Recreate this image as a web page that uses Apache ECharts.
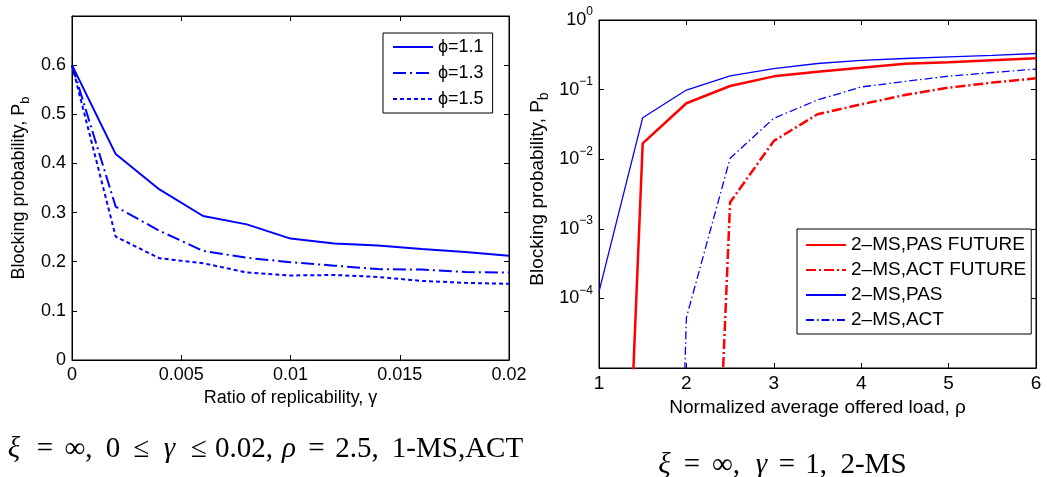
<!DOCTYPE html>
<html><head><meta charset="utf-8">
<script src="https://cdn.jsdelivr.net/npm/echarts@6/dist/echarts.min.js"></script>
<style>html,body{margin:0;padding:0;background:#fff}#c{width:1047px;height:477px}</style>
</head><body><div id="c"></div>
<script>
// ---- Left chart data ----
const gammaX = [0, 0.002, 0.004, 0.006, 0.008, 0.01, 0.012, 0.014, 0.016, 0.018, 0.02];
const phi11 = [0.6, 0.419, 0.347, 0.293, 0.276, 0.247, 0.237, 0.233, 0.226, 0.220, 0.212];
const phi13 = [0.6, 0.312, 0.263, 0.222, 0.208, 0.199, 0.192, 0.185, 0.184, 0.179, 0.178];
const phi15 = [0.6, 0.251, 0.207, 0.197, 0.178, 0.172, 0.173, 0.169, 0.161, 0.157, 0.155];
const leftNames = ['ϕ=1.1', 'ϕ=1.3', 'ϕ=1.5'];
const leftXTicks = [0, 0.005, 0.01, 0.015, 0.02];

// ---- Right chart data ----
const rhoX = [1, 1.5, 2, 2.5, 3, 3.5, 4, 4.5, 5, 5.5, 6];
const pasFuture = [1e-17, 0.0169, 0.0636, 0.1127, 0.155, 0.181, 0.206, 0.236, 0.247, 0.263, 0.281];
const actFuture = [1e-18, 1e-18, 3e-18, 0.0024, 0.0183, 0.0442, 0.0614, 0.0836, 0.1066, 0.126, 0.145];
const pas = [1.25e-4, 0.0395, 0.0986, 0.157, 0.200, 0.237, 0.263, 0.280, 0.295, 0.311, 0.330];
const act = [1e-26, 1e-25, 5.3e-5, 0.0103, 0.0387, 0.071, 0.109, 0.131, 0.156, 0.176, 0.197];
const rightNames = ['2–MS,PAS FUTURE', '2–MS,ACT FUTURE', '2–MS,PAS', '2–MS,ACT'];

// ---- Caption pieces: [text, italic, slot width] ----
const captionLeft = [['ξ',1,28],['=',0,34],['∞,',0,33],['0',0,36],['≤',0,21],['γ',1,35],['≤',0,24],['0.02,',0,66],['ρ',1,24],['=',0,31],['2.5,',0,50],['1-MS,ACT',0,151]];
const captionRight = [['ξ',1,25],['=',0,30],['∞,',0,38],['γ',1,33],['=',0,18],['1,',0,40],['2-MS',0,75]];

const FONT = 'Liberation Sans';
const SERIF = 'Liberation Serif';
const pairs = (xs, ys) => xs.map((x, i) => [x, ys[i]]);

function ax(extra, fs) {
  const base = {
    axisLine: { show: true, onZero: false, lineStyle: { color: '#000', width: 1 } },
    axisTick: { show: true, inside: true, length: 5, lineStyle: { color: '#000', width: 1 } },
    splitLine: { show: false },
    nameTextStyle: { fontFamily: FONT, fontSize: fs || 18, color: '#000' }
  };
  return Object.assign(base, extra);
}
function ylabelRich(fs) {
  return {
    n: { fontFamily: FONT, fontSize: fs, color: '#000', lineHeight: 26 },
    sub: { fontFamily: FONT, fontSize: Math.round(fs * 0.72), color: '#000', lineHeight: 26, verticalAlign: 'bottom' }
  };
}
const ylabelText = '{n|Blocking probability, P}{sub|b}';

function caption(pieces, x, y) {
  const rich = {};
  let text = '';
  pieces.forEach((p, i) => {
    rich['t' + i] = { fontFamily: SERIF, fontSize: 29, fontStyle: p[1] ? 'italic' : 'normal', fill: '#000', width: p[2], align: 'center' };
    text += '{t' + i + '|' + p[0] + '}';
  });
  return { type: 'text', x: x, y: y, style: { text: text, rich: rich, fontFamily: SERIF, fontSize: 29, fill: '#000', align: 'left', verticalAlign: 'middle' } };
}

const option = {
  animation: false,
  backgroundColor: '#fff',
  grid: [
    { left: 72, top: 16, width: 437, height: 344, show: true, borderColor: '#000', borderWidth: 1, backgroundColor: 'transparent' },
    { left: 599, top: 20, width: 437, height: 348, show: true, borderColor: '#000', borderWidth: 1, backgroundColor: 'transparent' }
  ],
  xAxis: [
    ax({ type: 'value', gridIndex: 0, min: leftXTicks[0], max: leftXTicks[leftXTicks.length - 1], interval: leftXTicks[1] - leftXTicks[0],
      axisLabel: { fontFamily: FONT, fontSize: 18, color: '#000', margin: 6, formatter: v => String(+(+v).toFixed(4)) },
      name: 'Ratio of replicability, γ', nameLocation: 'middle', nameGap: 27 }, 18),
    ax({ type: 'value', gridIndex: 0, position: 'top', min: leftXTicks[0], max: leftXTicks[leftXTicks.length - 1], interval: leftXTicks[1] - leftXTicks[0],
      axisLabel: { show: false } }),
    ax({ type: 'value', gridIndex: 1, min: rhoX[0], max: rhoX[rhoX.length - 1], interval: 1,
      axisLabel: { fontFamily: FONT, fontSize: 19, color: '#000', margin: 6 },
      name: 'Normalized average offered load, ρ', nameLocation: 'middle', nameGap: 27 }, 19),
    ax({ type: 'value', gridIndex: 1, position: 'top', min: rhoX[0], max: rhoX[rhoX.length - 1], interval: 1,
      axisLabel: { show: false } })
  ],
  yAxis: [
    ax({ type: 'value', gridIndex: 0, min: 0, max: 0.7, interval: 0.1,
      axisLabel: { fontFamily: FONT, fontSize: 18, color: '#000', margin: 6, showMaxLabel: false, formatter: v => String(+(+v).toFixed(2)) },
      name: ylabelText, nameLocation: 'middle', nameGap: 40, nameRotate: 90,
      nameTextStyle: { rich: ylabelRich(18) } }),
    ax({ type: 'value', gridIndex: 0, position: 'right', min: 0, max: 0.7, interval: 0.1,
      axisLabel: { show: false } }),
    ax({ type: 'log', logBase: 10, gridIndex: 1, min: 1e-5, max: 1,
      axisLabel: { margin: 6, showMinLabel: false,
        formatter: v => { const e = Math.round(Math.log10(v)); return '{b|10}{s|' + (e < 0 ? '−' + (-e) : e) + '}'; },
        rich: {
          b: { fontFamily: FONT, fontSize: 18, color: '#000', lineHeight: 28 },
          s: { fontFamily: FONT, fontSize: 12, color: '#000', lineHeight: 28, verticalAlign: 'top' }
        } },
      name: ylabelText, nameLocation: 'middle', nameGap: 48, nameRotate: 90,
      nameTextStyle: { rich: ylabelRich(19), padding: [0, 0, 0, 10] } }),
    ax({ type: 'log', logBase: 10, gridIndex: 1, position: 'right', min: 1e-5, max: 1,
      axisLabel: { show: false } })
  ],
  legend: [
    { data: leftNames, orient: 'vertical', left: 383, top: 33, padding: [4, 9, 4, 9],
      itemWidth: 40, itemHeight: 14, itemGap: 6, selectedMode: false,
      itemStyle: { opacity: 0 },
      textStyle: { fontFamily: FONT, fontSize: 18, lineHeight: 20, color: '#000' },
      backgroundColor: '#fff', borderColor: '#000', borderWidth: 1, borderRadius: 0 },
    { data: rightNames, orient: 'vertical', left: 797, top: 229, padding: [6, 5, 4, 8],
      itemWidth: 40, itemHeight: 14, itemGap: 5, selectedMode: false,
      itemStyle: { opacity: 0 },
      textStyle: { fontFamily: FONT, fontSize: 19, lineHeight: 20, color: '#000' },
      backgroundColor: '#fff', borderColor: '#000', borderWidth: 1, borderRadius: 0 }
  ],
  series: [
    { name: leftNames[0], type: 'line', xAxisIndex: 0, yAxisIndex: 0, data: pairs(gammaX, phi11), symbol: 'none', color: '#0000ff',
      lineStyle: { width: 2, type: 'solid', color: '#0000ff' } },
    { name: leftNames[1], type: 'line', xAxisIndex: 0, yAxisIndex: 0, data: pairs(gammaX, phi13), symbol: 'none', color: '#0000ff',
      lineStyle: { width: 2, type: [13, 4, 2, 4], color: '#0000ff' } },
    { name: leftNames[2], type: 'line', xAxisIndex: 0, yAxisIndex: 0, data: pairs(gammaX, phi15), symbol: 'none', color: '#0000ff',
      lineStyle: { width: 2, type: [4, 3], color: '#0000ff' } },
    { name: rightNames[0], type: 'line', xAxisIndex: 2, yAxisIndex: 2, data: pairs(rhoX, pasFuture), symbol: 'none', color: '#ff0000', clip: true,
      lineStyle: { width: 2.5, type: 'solid', color: '#ff0000' } },
    { name: rightNames[1], type: 'line', xAxisIndex: 2, yAxisIndex: 2, data: pairs(rhoX, actFuture), symbol: 'none', color: '#ff0000', clip: true,
      lineStyle: { width: 2.5, type: [10, 3, 2, 3], color: '#ff0000' } },
    { name: rightNames[2], type: 'line', xAxisIndex: 2, yAxisIndex: 2, data: pairs(rhoX, pas), symbol: 'none', color: '#0000ff', clip: true,
      lineStyle: { width: 1.3, type: 'solid', color: '#0000ff' } },
    { name: rightNames[3], type: 'line', xAxisIndex: 2, yAxisIndex: 2, data: pairs(rhoX, act), symbol: 'none', color: '#0000ff', clip: true,
      lineStyle: { width: 1.3, type: [8, 3, 1.5, 3], color: '#0000ff' } }
  ],
  graphic: [
    caption(captionLeft, 0, 449.6),
    caption(captionRight, 652, 465)
  ]
};
const chart = echarts.init(document.getElementById('c'), null, { renderer: 'canvas' });
chart.setOption(option);
</script>
</body></html>
